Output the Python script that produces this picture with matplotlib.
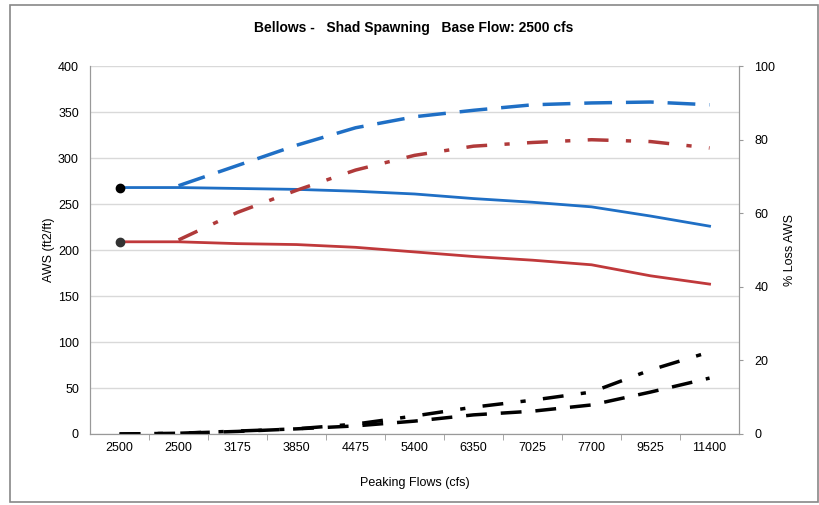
import matplotlib.pyplot as plt
from matplotlib.patches import Rectangle

plt.rcParams['font.family'] = ['Liberation Sans', 'DejaVu Sans']

# Peaking flows (category labels)
flows = ['2500', '2500', '3175', '3850', '4475', '5400', '6350', '7025', '7700', '9525', '11400']

# AWS (ft2/ft)
aws_blue = [268, 268, 267, 266, 264, 261, 256, 252, 247, 237, 226]
aws_red = [209, 209, 207, 206, 203, 198, 193, 189, 184, 172, 163]
aws_blue_dash = [None, 270, 292, 314, 333, 345, 352, 358, 360, 361, 358]
aws_red_dashdot = [None, 211, 241, 265, 287, 303, 313, 317, 320, 318, 311]

# % loss AWS
loss_dash = [0.0, 0.2, 0.7, 1.4, 2.2, 3.5, 5.2, 6.2, 7.9, 11.4, 15.2]
loss_dashdot = [0.0, 0.2, 0.8, 1.4, 2.7, 4.9, 7.3, 9.2, 11.4, 17.4, 22.3]

x = list(range(len(flows)))

fig = plt.figure(figsize=(8.2, 5.05), dpi=100)
fig.patches.append(Rectangle((0.012, 0.005), 0.985, 0.985, transform=fig.transFigure,
                             fill=False, edgecolor='#888888', linewidth=1.2))
ax = fig.add_axes([0.1098, 0.1406, 0.7915, 0.7284])
ax2 = ax.twinx()

def pts(vals):
    xs = [i for i, v in zip(x, vals) if v is not None]
    ys = [v for v in vals if v is not None]
    return xs, ys

ax.plot(x, aws_blue, color='#1f6fc5', lw=2)
ax.plot(x, aws_red, color='#c0393b', lw=2)
ax.plot(x[0], aws_blue[0], 'o', color='black', ms=6)
ax.plot(x[0], aws_red[0], 'o', color='#333333', ms=6)
bx, by = pts(aws_blue_dash)
ax.plot(bx, by, color='#1f6fc5', lw=2.5, dashes=(8, 4))
rx, ry = pts(aws_red_dashdot)
ax.plot(rx, ry, color='#b03a3a', lw=2.5, dashes=(6, 5, 1.5, 5))

ax2.plot(x, loss_dash, color='black', lw=2.5, dashes=(6, 4))
ax2.plot(x, loss_dashdot, color='black', lw=2.5, dashes=(6, 5, 1.5, 5))

ax.set_xlim(-0.5, len(flows) - 0.5)
ax.set_ylim(0, 400)
ax.set_yticks(range(0, 401, 50))
ax2.set_ylim(0, 100)
ax2.set_yticks(range(0, 101, 20))
ax.set_xticks(x)
ax.set_xticklabels(flows)
ax.set_xticks([i + 0.5 for i in x[:-1]], minor=True)
ax.tick_params(axis='x', which='major', length=0, labelsize=9, pad=6)
ax.tick_params(axis='x', which='minor', length=4, color='#999999')
ax.tick_params(axis='y', length=0, labelsize=9, pad=8)
ax2.tick_params(axis='y', length=3, color='#999999', labelsize=9, pad=8)

ax.grid(axis='y', color='#d9d9d9', lw=1)
ax.set_axisbelow(True)
for a in (ax, ax2):
    for s in a.spines.values():
        s.set_color('#999999')
    a.spines['top'].set_visible(False)

ax.set_ylabel('AWS (ft2/ft)', fontsize=9, labelpad=2)
ax2.set_ylabel('% Loss AWS', fontsize=9, labelpad=6)
ax.set_xlabel('Peaking Flows (cfs)', fontsize=9, labelpad=16)
fig.text(0.505, 0.945, 'Bellows -   Shad Spawning   Base Flow: 2500 cfs',
         ha='center', va='center', fontsize=10, fontweight='bold')

fig.savefig('out.png', dpi=100)
